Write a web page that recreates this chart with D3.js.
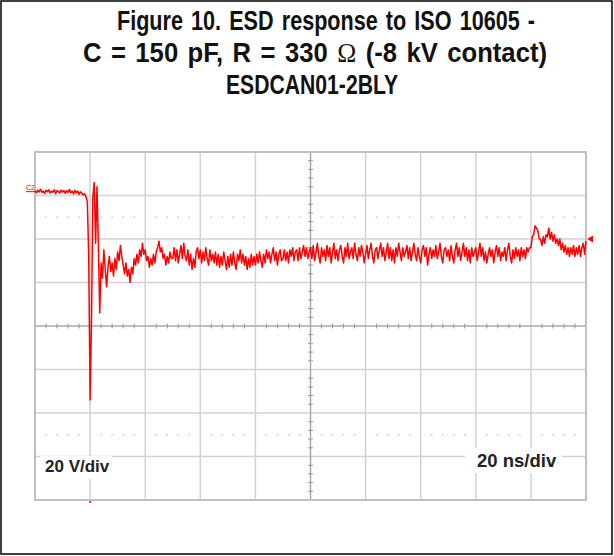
<!DOCTYPE html>
<html>
<head>
<meta charset="utf-8">
<script src="https://cdn.jsdelivr.net/npm/d3@7"></script>
<style>
  html, body { margin: 0; padding: 0; background: #fff; }
  svg { display: block; }
</style>
</head>
<body>
<div id="chart"></div>
<script>
// Scope capture: ESD response, ch2, 20 V/div, 20 ns/div.

const titleLines = [
  "Figure 10. ESD response to ISO 10605 -",
  "C = 150 pF, R = 330 \u03A9 (-8 kV contact)",
  "ESDCAN01-2BLY"
];
const voltLabel = "20 V/div";
const timeLabel = "20 ns/div";
const channelName = "C2";

const VOLTS_PER_DIV = 20;
const NS_PER_DIV = 20;
const H_DIVS = 10;
const V_DIVS = 8;
const GROUND_DIV = 3.1;        // ground marker, divisions above screen centre
const TRIGGER_NS = 20;
const TRIGGER_LEVEL_V = -22;
const SAMPLE_NS = 0.5;         // scope record: one sample every 0.5 ns from t = 0

// trace samples in volts
const traceVolts = [
  0.2, -0.8, 0.5, -0.4, 0.9, -0.6, 0.1, -1.1, 0.4, -0.3,
  0.6, -0.9, 0.0, -0.5, 0.7, -1.2, 0.3, -0.2, -0.9, 0.5,
  -0.4, 0.3, -1.0, 0.2, -0.6, 0.8, -0.7, -0.1, -1.3, 0.4,
  -0.8, 0.1, -1.5, -0.3, -1.0, -1.8, -1.2, -2.6, -4.8, -30,
  -96, -60, -3, 4, -24, 2, -25, -56, -33, -40,
  -27, -36, -44, -35, -30, -37, -33, -39, -31, -36,
  -28, -32, -25, -30, -34, -38, -33, -39, -36, -42,
  -35, -38, -31, -34, -29, -33, -27, -30, -24, -29,
  -27, -32, -30, -35, -31, -34, -29, -33, -28, -26,
  -23, -28, -26, -31, -29, -34, -30, -33, -28, -31,
  -31, -26, -32, -27, -33, -29, -25, -31, -24, -30,
  -32, -27, -34, -29, -36, -31, -35, -28, -26, -31,
  -27, -33, -28, -32, -26, -31, -34, -27, -32, -29,
  -33, -28, -34, -29, -35, -30, -34, -28, -32, -36,
  -30, -35, -29, -34, -28, -33, -36, -29, -32, -27,
  -33, -29, -34, -30, -36, -31, -35, -29, -34, -30,
  -34, -29, -33, -28, -32, -35, -29, -33, -27, -31,
  -28, -33, -29, -26, -32, -28, -34, -29, -27, -32,
  -31, -27, -32, -28, -33, -27, -30, -26, -32, -28,
  -27, -32, -26, -31, -28, -25, -30, -26, -31, -28,
  -26, -31, -25, -32, -28, -24, -30, -33, -26, -30,
  -27, -32, -25, -30, -26, -33, -28, -24, -31, -27,
  -32, -27, -25, -30, -33, -26, -30, -24, -31, -28,
  -26, -31, -24, -29, -32, -26, -30, -25, -28, -33,
  -29, -25, -31, -27, -24, -30, -33, -27, -26, -31,
  -27, -24, -30, -26, -32, -28, -24, -31, -26, -32,
  -27, -33, -26, -30, -24, -28, -32, -26, -30, -28,
  -25, -31, -26, -32, -28, -24, -29, -32, -26, -30,
  -33, -27, -25, -30, -26, -34, -29, -26, -31, -27,
  -30, -25, -31, -28, -24, -30, -33, -27, -26, -30,
  -27, -32, -25, -30, -33, -27, -24, -30, -26, -32,
  -28, -24, -30, -26, -32, -27, -33, -26, -30, -28,
  -26, -32, -28, -24, -30, -26, -32, -28, -33, -29,
  -26, -30, -27, -33, -28, -25, -30, -26, -32, -28,
  -30, -26, -32, -27, -24, -30, -33, -27, -31, -26,
  -30, -27, -32, -26, -30, -27, -31, -26, -28, -26,
  -26, -21, -20, -16, -17, -18, -22, -22, -25, -21,
  -24, -20, -21, -17, -22, -19, -23, -20, -24, -22,
  -25, -22, -27, -24, -28, -25, -29, -26, -30, -26,
  -29, -25, -30, -26, -29, -25, -30, -26, -24, -29,
  -23
];

// title line extents as printed (left x, right x) and horizontal squeeze
const titleSpans = [[117, 535], [83, 547], [226, 398]];
const titleSqueeze = [0.8, 0.95, 0.78];

const W = 614, H = 556;
const plot = { left: 35, right: 586, top: 152, bottom: 500 };

const svg = d3.select("#chart").append("svg")
  .attr("width", W).attr("height", H)
  .attr("font-family", "'Liberation Sans', Arial, Helvetica, sans-serif");

// outer border
svg.append("rect")
  .attr("x", 1).attr("y", 1).attr("width", W - 3).attr("height", H - 3)
  .attr("fill", "#fff").attr("stroke", "#000").attr("stroke-width", 1.5);

// title: condensed bold face -> squeeze glyphs, word gaps make up the printed extents
svg.append("g").selectAll("g")
  .data(titleLines)
  .join("g")
    .attr("transform", (d, i) => `translate(${titleSpans[i][0]},${30 + i * 32}) scale(${titleSqueeze[i]},1)`)
  .append("text")
    .attr("x", 0).attr("y", 0)
    .attr("font-size", 27)
    .attr("font-weight", "bold")
    .attr("fill", "#111")
    .each(function (d, i) {
      const t = d3.select(this);
      const parts = d.split("\u03A9");
      t.append("tspan").text(parts[0]);
      if (parts.length > 1) {
        t.append("tspan")
          .attr("font-family", "'Liberation Serif', 'DejaVu Serif', serif")
          .attr("font-weight", "normal")
          .text("\u03A9");
        t.append("tspan").text(parts[1]);
      }
      const target = (titleSpans[i][1] - titleSpans[i][0]) / titleSqueeze[i];
      const natural = this.getComputedTextLength();
      const gaps = (d.match(/ /g) || []).length;
      if (gaps > 0 && target > natural) {
        t.style("word-spacing", `${(target - natural) / gaps}px`);
      } else {
        t.attr("textLength", target).attr("lengthAdjust", "spacingAndGlyphs");
      }
    });

// scales
const xDiv = d3.scaleLinear().domain([0, H_DIVS]).range([plot.left, plot.right]);
const yDiv = d3.scaleLinear().domain([-V_DIVS / 2, V_DIVS / 2]).range([plot.bottom, plot.top]);
const x = d3.scaleLinear().domain([0, H_DIVS * NS_PER_DIV]).range([plot.left, plot.right]);
const y = d3.scaleLinear()
  .domain([(-V_DIVS / 2 - GROUND_DIV) * VOLTS_PER_DIV, (V_DIVS / 2 - GROUND_DIV) * VOLTS_PER_DIV])
  .range([plot.bottom, plot.top]);

const grid = svg.append("g").attr("class", "grid");
const majorCol = "#d2d2d2";

grid.selectAll("line.v")
  .data(d3.range(1, H_DIVS).filter(d => d !== H_DIVS / 2))
  .join("line").attr("class", "v")
    .attr("x1", d => xDiv(d)).attr("x2", d => xDiv(d))
    .attr("y1", plot.top).attr("y2", plot.bottom)
    .attr("stroke", majorCol).attr("stroke-width", 1.5);

grid.selectAll("line.h")
  .data(d3.range(-V_DIVS / 2 + 1, V_DIVS / 2).filter(d => d !== 0))
  .join("line").attr("class", "h")
    .attr("x1", plot.left).attr("x2", plot.right)
    .attr("y1", d => yDiv(d)).attr("y2", d => yDiv(d))
    .attr("stroke", majorCol).attr("stroke-width", 1.5);

// dotted rows at +/- 2.5 div
const minorX = d3.range(0, H_DIVS * 5 + 1).map(i => i / 5).filter(d => Math.abs(d - Math.round(d)) > 1e-6);
[2.5, -2.5].forEach(r => {
  grid.append("g").selectAll("rect")
    .data(minorX)
    .join("rect")
      .attr("x", d => xDiv(d) - 0.75).attr("y", yDiv(r) - 0.75)
      .attr("width", 1.5).attr("height", 1.5)
      .attr("fill", "#c8c8c8");
});

// centre axes with minor ticks
const axisCol = "#a8a8a8";
grid.append("line")
  .attr("x1", plot.left).attr("x2", plot.right)
  .attr("y1", yDiv(0)).attr("y2", yDiv(0))
  .attr("stroke", axisCol).attr("stroke-width", 1.5);
grid.append("line")
  .attr("x1", xDiv(H_DIVS / 2)).attr("x2", xDiv(H_DIVS / 2))
  .attr("y1", plot.top).attr("y2", plot.bottom)
  .attr("stroke", axisCol).attr("stroke-width", 1.5);

grid.append("g").selectAll("line")
  .data(minorX)
  .join("line")
    .attr("x1", d => xDiv(d)).attr("x2", d => xDiv(d))
    .attr("y1", yDiv(0) - 2.5).attr("y2", yDiv(0) + 2.5)
    .attr("stroke", "#9a9a9a").attr("stroke-width", 1);

const minorY = d3.range(-V_DIVS * 5 / 2, V_DIVS * 5 / 2 + 1).map(i => i / 5).filter(d => Math.abs(d - Math.round(d)) > 1e-6);
grid.append("g").selectAll("line")
  .data(minorY)
  .join("line")
    .attr("x1", xDiv(H_DIVS / 2) - 2.5).attr("x2", xDiv(H_DIVS / 2) + 2.5)
    .attr("y1", d => yDiv(d)).attr("y2", d => yDiv(d))
    .attr("stroke", "#9a9a9a").attr("stroke-width", 1);

// frame
grid.append("rect")
  .attr("x", plot.left).attr("y", plot.top)
  .attr("width", plot.right - plot.left).attr("height", plot.bottom - plot.top)
  .attr("fill", "none").attr("stroke", "#c0c0c0").attr("stroke-width", 2);

// trace
const line = d3.line()
  .x((d, i) => x(i * SAMPLE_NS))
  .y(d => y(d));

svg.append("path")
  .datum(traceVolts)
  .attr("d", line)
  .attr("fill", "none")
  .attr("stroke", "#ff0000")
  .attr("stroke-width", 1.5)
  .attr("stroke-linejoin", "round");

// ground marker
svg.append("text")
  .attr("x", plot.left - 9).attr("y", y(0) - 1)
  .attr("font-size", 7).attr("fill", "#ff0000")
  .text(channelName);
svg.append("line")
  .attr("x1", plot.left - 9).attr("x2", plot.left)
  .attr("y1", y(0) + 0.5).attr("y2", y(0) + 0.5)
  .attr("stroke", "#ff0000").attr("stroke-width", 1);

// trigger level marker (right edge)
const ty = y(TRIGGER_LEVEL_V);
svg.append("path")
  .attr("d", `M${plot.right + 1},${ty} L${plot.right + 7},${ty - 3.5} L${plot.right + 7},${ty + 3.5} Z`)
  .attr("fill", "#ff0000");

// trigger position marker (bottom)
svg.append("line")
  .attr("x1", x(TRIGGER_NS)).attr("x2", x(TRIGGER_NS))
  .attr("y1", plot.bottom + 1).attr("y2", plot.bottom + 3)
  .attr("stroke", "#ff0000").attr("stroke-width", 1.5);

// scale labels
const labels = [
  { text: voltLabel, bx: 40, by: 456, bw: 72, bh: 23, tx: 45, ty: 472, size: 17 },
  { text: timeLabel, bx: 465, by: 448, bw: 97, bh: 25, tx: 477, ty: 467, size: 18.5 }
];
const lg = svg.append("g").selectAll("g").data(labels).join("g");
lg.append("rect")
  .attr("x", d => d.bx).attr("y", d => d.by)
  .attr("width", d => d.bw).attr("height", d => d.bh)
  .attr("fill", "#fff");
lg.append("text")
  .attr("x", d => d.tx).attr("y", d => d.ty)
  .attr("font-size", d => d.size).attr("font-weight", "bold")
  .attr("fill", "#222")
  .text(d => d.text);
</script>
</body>
</html>
